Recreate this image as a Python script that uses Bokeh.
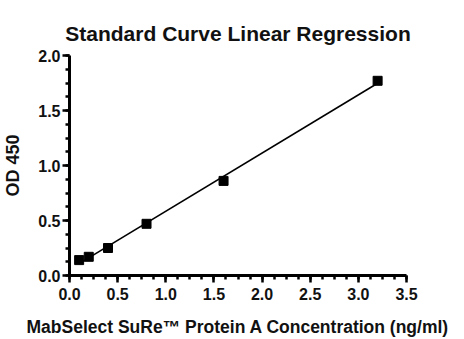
import numpy as np
from bokeh.plotting import figure
from bokeh.models import SingleIntervalTicker, NumeralTickFormatter, Range1d
from bokeh.embed import file_html
from bokeh.resources import INLINE

# Data
conc = [0.1, 0.2, 0.4, 0.8, 1.6, 3.2]          # ng/ml
od450 = [0.14, 0.17, 0.25, 0.47, 0.86, 1.77]

title_text = "Standard Curve Linear Regression"
x_label = "MabSelect SuRe\u2122 Protein A Concentration (ng/ml)"
y_label = "OD 450"

# linear regression of the standards
slope, intercept = np.polyfit(conc, od450, 1)
fit_x = [min(conc), max(conc)]
fit_y = [intercept + slope * v for v in fit_x]

FONT = "Liberation Sans"

p = figure(width=464, height=339, output_backend="svg", toolbar_location=None,
           x_range=Range1d(0, 3.5), y_range=Range1d(0, 2.0),
           min_border_left=67, min_border_right=58, min_border_top=55, min_border_bottom=58)

p.title.text = title_text
p.title.align = "center"
p.title.text_font = FONT
p.title.text_font_style = "bold"
p.title.text_font_size = "21px"
p.title.text_color = "#111111"
p.title.standoff = 22

p.line(fit_x, fit_y, line_color="black", line_width=1.6)
p.scatter(conc, od450, marker="square", size=9, fill_color="black", line_color="black")

p.xgrid.visible = False
p.ygrid.visible = False
p.outline_line_color = None

p.xaxis.ticker = SingleIntervalTicker(interval=0.5, num_minor_ticks=4)
p.yaxis.ticker = SingleIntervalTicker(interval=0.5, num_minor_ticks=4)

p.axis.formatter = NumeralTickFormatter(format="0.0")
p.axis.axis_line_width = 3
p.axis.axis_line_color = "black"
p.axis.major_tick_line_width = 2.5
p.axis.minor_tick_line_width = 2.5
p.axis.major_tick_line_color = "black"
p.axis.minor_tick_line_color = "black"
p.axis.major_tick_in = 0
p.axis.major_tick_out = 7
p.axis.minor_tick_in = 0
p.axis.minor_tick_out = 4
p.axis.major_label_text_font = FONT
p.axis.major_label_text_font_style = "bold"
p.axis.major_label_text_font_size = "16px"
p.axis.major_label_text_color = "#111111"
p.axis.axis_label_text_font = FONT
p.axis.axis_label_text_font_style = "bold"
p.axis.axis_label_text_color = "#111111"

p.xaxis.axis_label = x_label
p.yaxis.axis_label = y_label
p.xaxis.axis_label_text_font_size = "17.5px"
p.yaxis.axis_label_text_font_size = "18px"
p.xaxis.major_label_standoff = 5
p.yaxis.major_label_standoff = 2
p.xaxis.axis_label_standoff = 14
p.yaxis.axis_label_standoff = 12

open("out.html", "w").write(file_html(p, INLINE))
